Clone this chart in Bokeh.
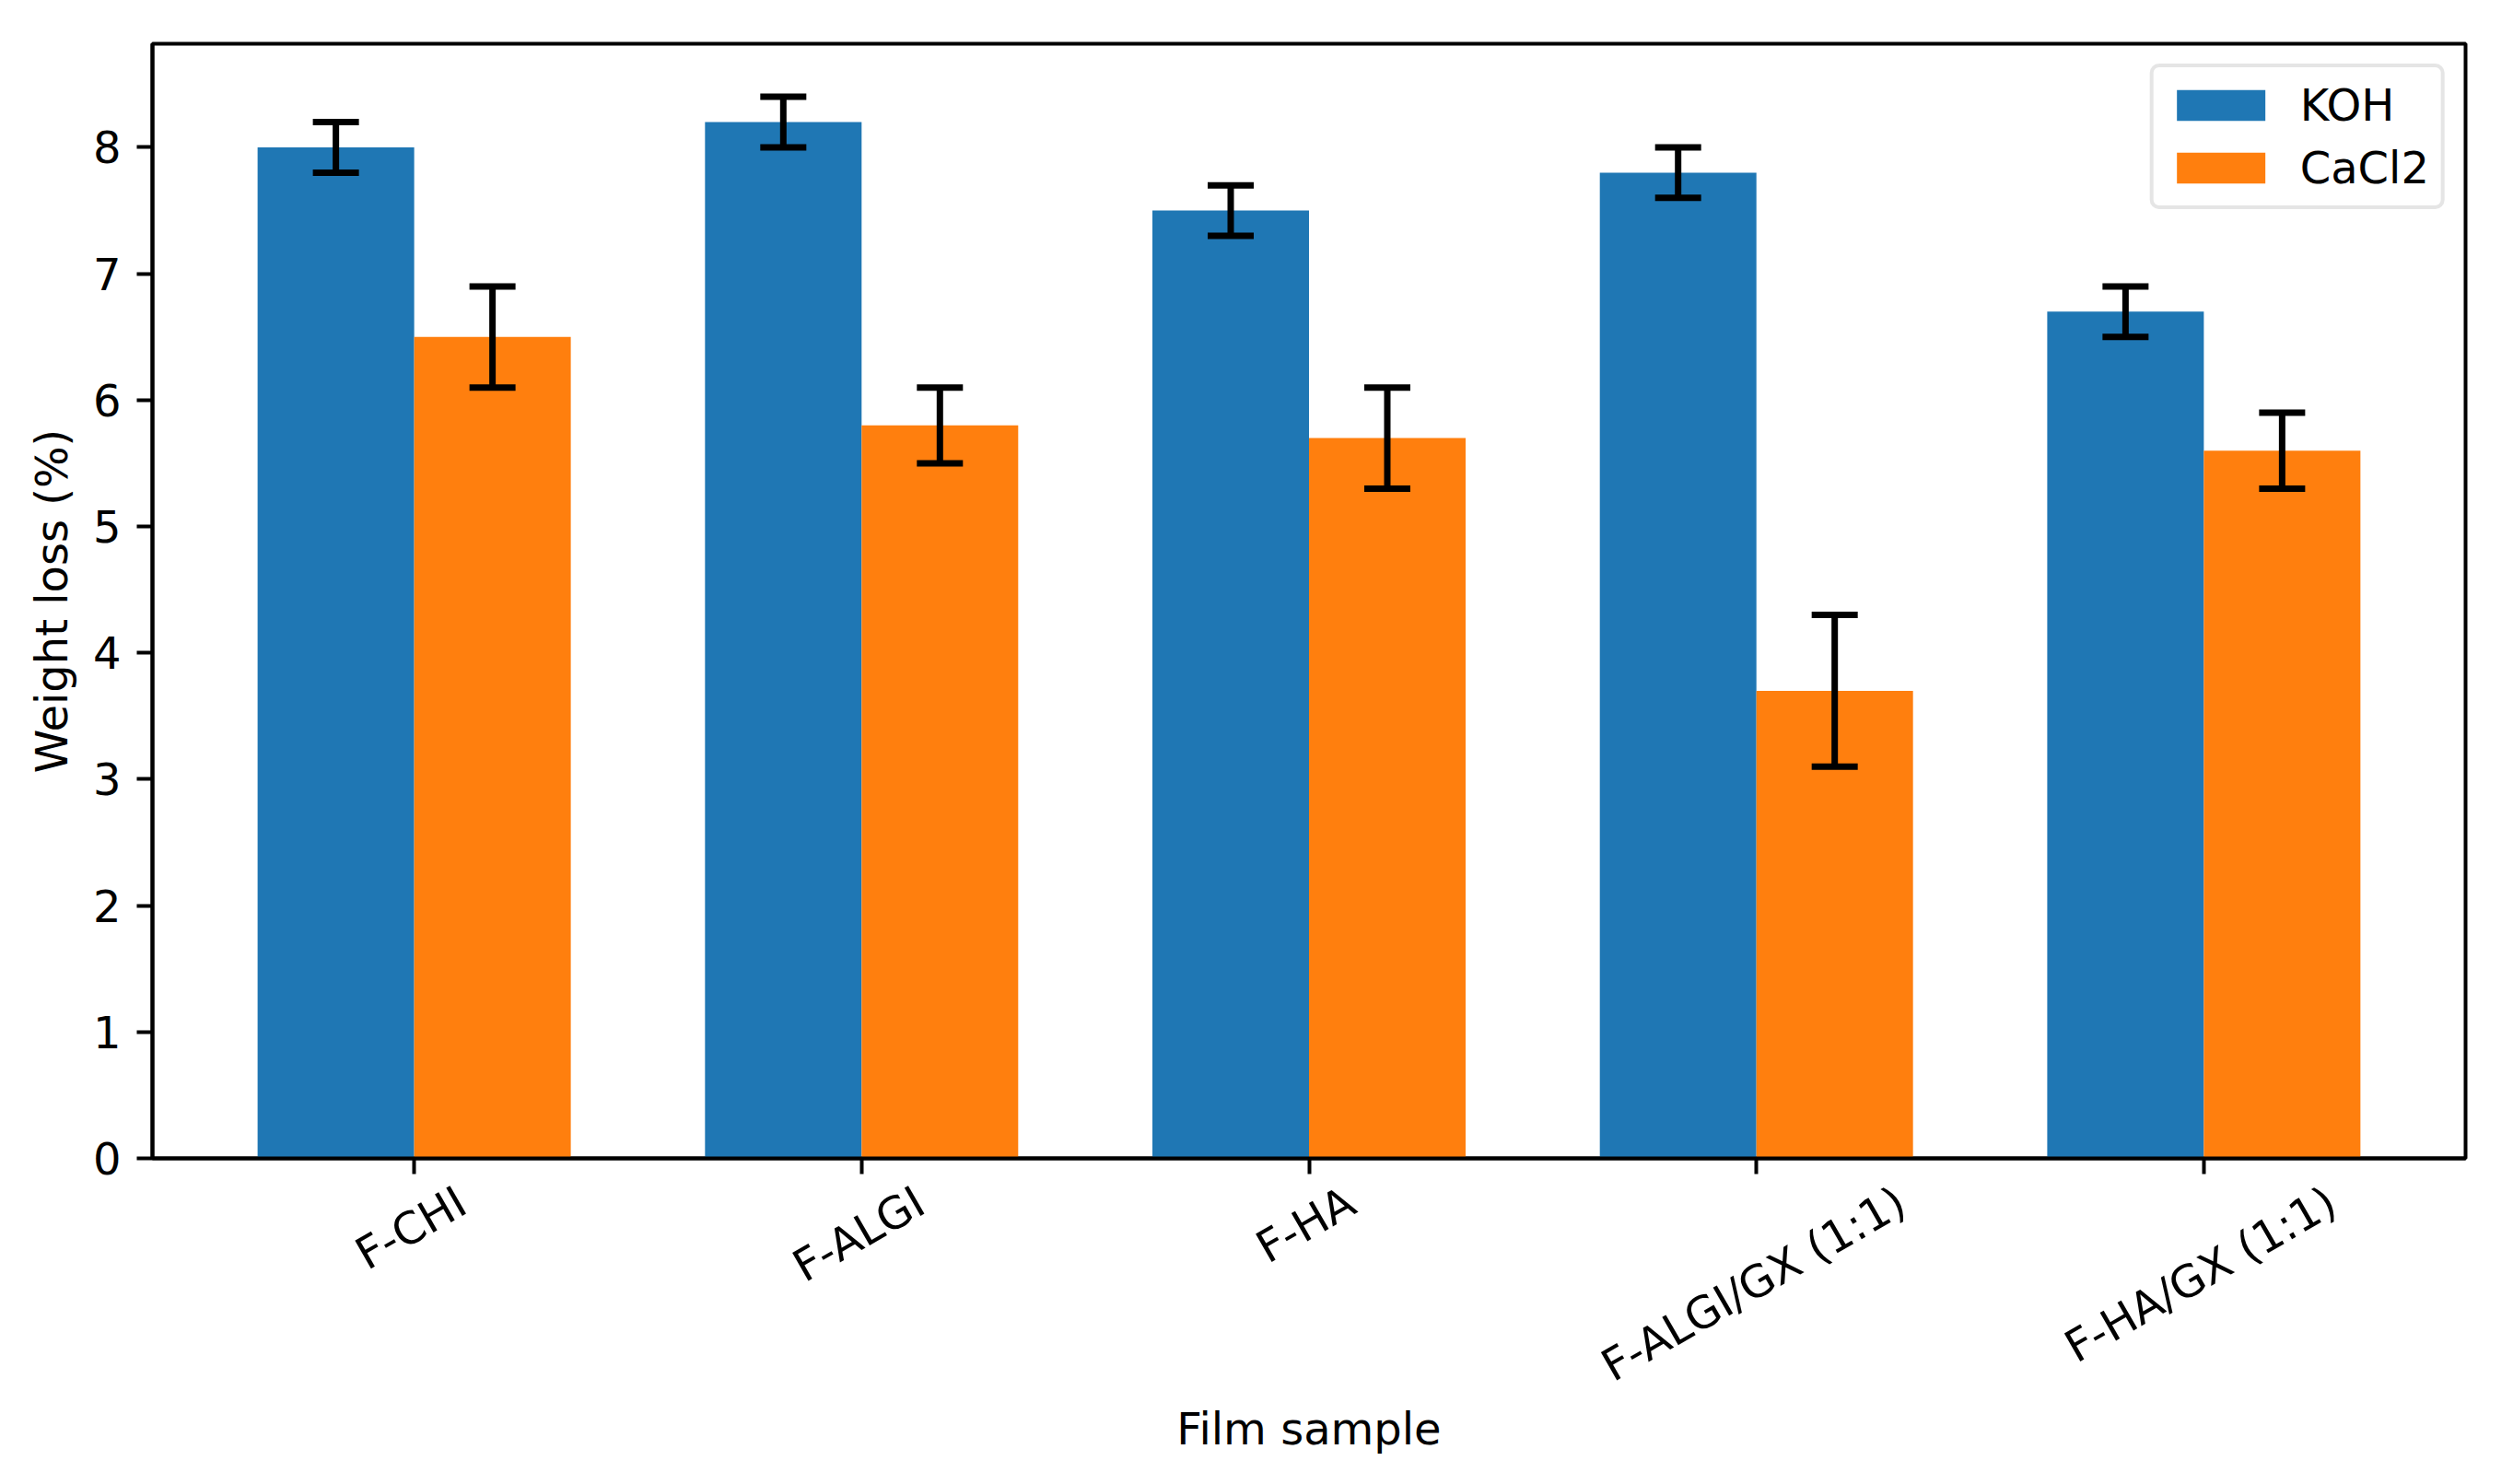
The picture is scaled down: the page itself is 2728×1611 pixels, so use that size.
import math
from bokeh.plotting import figure
from bokeh.models import (Range1d, FixedTicker, ColumnDataSource, Whisker,
                          TeeHead, Legend, LegendItem, LinearAxis)
from bokeh.embed import file_html
from bokeh.resources import INLINE

# Dados
amostras = ["F-CHI", "F-ALGI", "F-HA", "F-ALGI/GX (1:1)", "F-HA/GX (1:1)"]
koh = [8.0, 8.2, 7.5, 7.8, 6.7]
koh_erro = [0.2, 0.2, 0.2, 0.2, 0.2]
cacl2 = [6.5, 5.8, 5.7, 3.7, 5.6]
cacl2_erro = [0.4, 0.3, 0.4, 0.6, 0.3]
y_ticks = [0, 1, 2, 3, 4, 5, 6, 7, 8]

AZUL = "#1f77b4"
LARANJA = "#ff7f0e"
FONTE = "DejaVu Sans"
TAM_PX = 48
TAM = f"{TAM_PX}px"
largura = 0.35
angulo = math.pi / 6
X_MIN, X_MAX = -0.585, 4.585
LARG_QUADRO = 2511  # largura da área de plotagem em px

# larguras aproximadas dos caracteres da DejaVu Sans (em)
LARG_CHAR = {"F": .575, "-": .361, "C": .698, "H": .752, "I": .295, "A": .684,
             "L": .557, "G": .775, "/": .337, "X": .685, " ": .318, "(": .390,
             ")": .390, "1": .636, ":": .337}


def largura_texto(s):
    return sum(LARG_CHAR.get(c, 0.6) for c in s) * TAM_PX


idx = list(range(len(amostras)))
fonte_koh = ColumnDataSource(dict(
    x=[i - largura / 2 for i in idx], top=koh,
    upper=[v + e for v, e in zip(koh, koh_erro)],
    lower=[v - e for v, e in zip(koh, koh_erro)]))
fonte_cacl2 = ColumnDataSource(dict(
    x=[i + largura / 2 for i in idx], top=cacl2,
    upper=[v + e for v, e in zip(cacl2, cacl2_erro)],
    lower=[v - e for v, e in zip(cacl2, cacl2_erro)]))

p = figure(width=2712, height=1595, output_backend="svg", toolbar_location=None,
           x_range=Range1d(X_MIN, X_MAX), y_range=Range1d(0, 8.82),
           min_border_left=165, min_border_right=36, min_border_top=47,
           min_border_bottom=338, y_axis_label="Weight loss (%)")

r_koh = p.vbar(x="x", top="top", width=largura, source=fonte_koh,
               fill_color=AZUL, line_color=None)
r_cacl2 = p.vbar(x="x", top="top", width=largura, source=fonte_cacl2,
                 fill_color=LARANJA, line_color=None)

for fonte in (fonte_koh, fonte_cacl2):
    w = Whisker(source=fonte, base="x", upper="upper", lower="lower",
                line_color="black", line_width=7, level="overlay",
                upper_head=TeeHead(size=50, line_color="black", line_width=7),
                lower_head=TeeHead(size=50, line_color="black", line_width=7))
    p.add_layout(w)

p.xgrid.visible = False
p.ygrid.visible = False
p.outline_line_color = "black"
p.outline_line_width = 4
p.background_fill_color = "white"

p.yaxis.ticker = FixedTicker(ticks=y_ticks)

for eixo in (p.xaxis, p.yaxis):
    eixo.axis_line_color = "black"
    eixo.axis_line_width = 4
    eixo.major_tick_line_color = "black"
    eixo.major_tick_line_width = 4
    eixo.major_tick_in = 0
    eixo.major_tick_out = 17
    eixo.minor_tick_line_color = None
    eixo.major_label_text_font = FONTE
    eixo.major_label_text_font_size = TAM
    eixo.major_label_text_color = "black"
    eixo.major_label_standoff = 17
    eixo.axis_label_text_font = FONTE
    eixo.axis_label_text_font_size = TAM
    eixo.axis_label_text_font_style = "normal"
    eixo.axis_label_text_color = "black"
p.yaxis.axis_label_standoff = 14

# eixo x principal: só as marcas dos ticks
p.xaxis.ticker = FixedTicker(ticks=idx)
p.xaxis.major_label_overrides = {i: "" for i in idx}
p.xaxis.major_label_text_font_size = "1px"
p.xaxis.major_label_standoff = 0

# segundo eixo: rótulos inclinados deslocados para ficarem centrados no tick
px_por_unidade = LARG_QUADRO / (X_MAX - X_MIN)
h_txt = 0.73 * TAM_PX
pos_rotulos = []
for i, nome in zip(idx, amostras):
    desloc = (largura_texto(nome) * math.cos(angulo) - h_txt * math.sin(angulo)) / 2 + 5
    pos_rotulos.append(round(i + desloc / px_por_unidade, 4))

eixo_rot = LinearAxis(ticker=FixedTicker(ticks=pos_rotulos),
                      major_label_overrides=dict(zip(pos_rotulos, amostras)),
                      major_label_orientation=angulo,
                      major_label_text_font=FONTE, major_label_text_font_size=TAM,
                      major_label_text_color="black", major_label_standoff=26,
                      axis_line_color=None, major_tick_line_color=None,
                      minor_tick_line_color=None, major_tick_in=0, major_tick_out=0,
                      axis_label="Film sample", axis_label_text_font=FONTE,
                      axis_label_text_font_size=TAM, axis_label_text_font_style="normal",
                      axis_label_text_color="black", axis_label_standoff=-15)
p.add_layout(eixo_rot, "below")

legenda = Legend(items=[LegendItem(label="KOH", renderers=[r_koh]),
                        LegendItem(label="CaCl2", renderers=[r_cacl2])],
                 location="top_right", margin=22, padding=13, spacing=12,
                 glyph_width=120, glyph_height=42, label_standoff=26,
                 label_text_font=FONTE, label_text_font_size=TAM,
                 label_text_color="black",
                 border_line_color="#cccccc", border_line_width=4,
                 border_radius=10, background_fill_alpha=0.8)
p.add_layout(legenda)

open("out.html", "w").write(file_html(p, INLINE))
